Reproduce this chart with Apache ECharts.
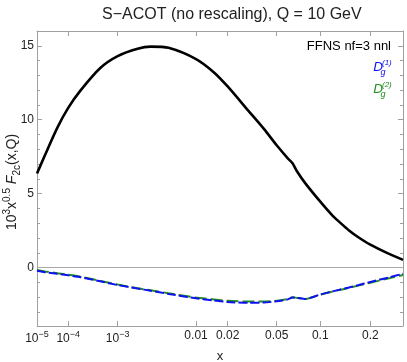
<!DOCTYPE html>
<html>
<head>
<meta charset="utf-8">
<script src="https://cdn.jsdelivr.net/npm/echarts@6/dist/echarts.min.js"></script>
<style>
html,body{margin:0;padding:0;background:#fff;}
#chart{width:407px;height:362px;}
</style>
</head>
<body>
<div id="chart"></div>
<script>
// ---- data ----
const xValues = [1e-5, 2e-5, 5e-5, 1e-4, 2e-4, 5e-4, 1e-3, 2e-3, 3e-3, 5e-3, 0.01, 0.015, 0.02, 0.03, 0.04, 0.05, 0.06, 0.065, 0.07, 0.08, 0.1, 0.12, 0.135, 0.15, 0.17, 0.2, 0.25, 0.3];
const ffnsValues = [6.36, 7.6, 9.45, 10.8, 12.0, 13.5, 14.3, 14.8, 14.94, 14.86, 14.1, 13.2, 12.25, 10.62, 9.38, 8.27, 7.4, 7.06, 6.5, 5.68, 4.46, 3.5, 2.98, 2.53, 2.07, 1.55, 0.96, 0.52];
const dg1Values = [-0.22, -0.31, -0.42, -0.52, -0.65, -0.93, -1.18, -1.42, -1.56, -1.78, -2.08, -2.22, -2.33, -2.38, -2.36, -2.28, -2.15, -2.02, -2.05, -2.12, -1.82, -1.6, -1.47, -1.35, -1.19, -0.97, -0.68, -0.42];
const dg2Values = [-0.17, -0.26, -0.38, -0.48, -0.62, -0.9, -1.15, -1.4, -1.53, -1.74, -2.03, -2.15, -2.25, -2.3, -2.3, -2.25, -2.13, -2.0, -2.05, -2.12, -1.83, -1.62, -1.49, -1.38, -1.22, -1.02, -0.74, -0.5];
const xTicks = [1e-5, 1e-4, 1e-3, 0.01, 0.02, 0.05, 0.1, 0.2];
const xTickLabels = ['10^−5', '10^−4', '10^−3', '0.01', '0.02', '0.05', '0.1', '0.2'];
const yMajorTicks = [0, 5, 10, 15];
const yMinorTicks = [-3, -2, -1, 0, 1, 2, 3, 4, 5, 6, 7, 8, 9, 10, 11, 12, 13, 14, 15, 16];
const xRange = [1e-5, 0.3];
const yRange = [-3.95, 16];
const titleText = 'S−ACOT (no rescaling), Q = 10 GeV';
const legendTitle = 'FFNS nf=3 nnl';

// ---- scale transform (x^0.2 axis) ----
const P = 0.2;
const t = v => Math.pow(v, P);

const FONT = 'Liberation Sans, Arial, Helvetica, sans-serif';
const FRAME = '#a0a0a0';
const TXT = '#222';
const BLUE = '#1010f0';
const GREEN = '#1f8f1f';

const xTickPos = xTicks.map(t);
function xLabelFmt(v) {
  let best = 0, bd = Infinity;
  xTickPos.forEach((p, i) => { const d = Math.abs(p - v); if (d < bd) { bd = d; best = i; } });
  const s = xTickLabels[best];
  if (s.indexOf('^') >= 0) {
    const [b, e] = s.split('^');
    return '{b|' + b + '}{s|' + e + '}';
  }
  return '{b|' + s + '}';
}

const pairs = arr => xValues.map((x, i) => [t(x), arr[i]]);

const chart = echarts.init(document.getElementById('chart'), null, { renderer: 'canvas' });

const frameAxisX = (pos, showLabel) => ({
  type: 'value', position: pos, min: t(xRange[0]), max: t(xRange[1]),
  axisLine: { show: true, onZero: false, lineStyle: { color: FRAME, width: 1 } },
  axisTick: { show: true, inside: true, length: 5, customValues: xTickPos, lineStyle: { color: FRAME, width: 1 } },
  axisLabel: showLabel ? {
    show: true, customValues: xTickPos, margin: 4, formatter: xLabelFmt,
    color: TXT, fontFamily: FONT, fontSize: 12,
    rich: {
      b: { fontSize: 12, fontFamily: FONT, color: TXT, verticalAlign: 'bottom', padding: [0, 0, 0, 0] },
      s: { fontSize: 9, fontFamily: FONT, color: TXT, verticalAlign: 'bottom', padding: [0, 0, 6, 0] }
    }
  } : { show: false },
  splitLine: { show: false },
  minorTick: { show: false }
});

const frameAxisY = (pos, major, showLabel, showLine) => ({
  type: 'value', position: pos, min: yRange[0], max: yRange[1],
  axisLine: { show: showLine, onZero: false, lineStyle: { color: FRAME, width: 1 } },
  axisTick: { show: true, inside: true, length: major ? 5 : 3, customValues: major ? yMajorTicks : yMinorTicks, lineStyle: { color: FRAME, width: 1 } },
  axisLabel: showLabel ? { show: true, customValues: yMajorTicks, margin: 3, color: TXT, fontFamily: FONT, fontSize: 12 } : { show: false },
  splitLine: { show: false }
});

const xAx0 = frameAxisX('bottom', true);
xAx0.name = 'x';
xAx0.nameLocation = 'middle';
xAx0.nameGap = 20;
xAx0.nameTextStyle = { fontSize: 13, fontFamily: FONT, color: TXT };

const richTok = (size, pb, italic) => ({
  fontSize: size, fontFamily: FONT, color: TXT, fill: TXT,
  fontStyle: italic ? 'italic' : 'normal',
  verticalAlign: 'bottom', padding: [0, 0, pb, 0]
});

const option = {
  animation: false,
  backgroundColor: '#fff',
  title: {
    text: titleText, left: 97, top: 2,
    textStyle: { fontSize: 16, fontWeight: 'normal', fontFamily: FONT, color: TXT }
  },
  grid: { left: 37, right: 4, top: 31, bottom: 36, containLabel: false, outerBoundsMode: 'none' },
  xAxis: [xAx0, frameAxisX('top', false)],
  yAxis: [
    frameAxisY('left', true, true, true),
    frameAxisY('left', false, false, false),
    frameAxisY('right', true, false, true),
    frameAxisY('right', false, false, false)
  ],
  series: [
    {
      name: 'FFNS', type: 'line', xAxisIndex: 0, yAxisIndex: 0,
      data: pairs(ffnsValues), showSymbol: false, smooth: 0.25,
      lineStyle: { color: '#000', width: 2.6 },
      markLine: {
        silent: true, symbol: ['none', 'none'], label: { show: false },
        lineStyle: { color: '#a8a8a8', width: 1, type: 'solid' },
        data: [{ yAxis: 0 }]
      }
    },
    {
      name: 'Dg2', type: 'line', xAxisIndex: 0, yAxisIndex: 0,
      data: pairs(dg2Values), showSymbol: false, smooth: 0.2,
      lineStyle: { color: GREEN, width: 2, type: [12, 4] }
    },
    {
      name: 'Dg1', type: 'line', xAxisIndex: 0, yAxisIndex: 0,
      data: pairs(dg1Values), showSymbol: false, smooth: 0.2,
      lineStyle: { color: BLUE, width: 2, type: [9, 3] }
    }
  ],
  graphic: [
    {
      type: 'text', x: 12, y: 182, rotation: Math.PI / 2,
      style: {
        text: '{n|10}{p|3}{n|x}{p|0.5}{n| }{i|F}{b|2c}{n|(x,Q)}',
        font: '14px ' + FONT, fill: TXT, align: 'center', textAlign: 'center', verticalAlign: 'middle', textVerticalAlign: 'middle',
        rich: { n: richTok(14, 3, false), i: richTok(14, 3, true), p: richTok(10, 10, false), b: richTok(10, 0, false) }
      }
    },
    { type: 'text', x: 391, y: 46, style: { text: legendTitle, font: '13px ' + FONT, fill: '#000', align: 'right', textAlign: 'right', verticalAlign: 'middle', textVerticalAlign: 'middle' } },
    { type: 'text', x: 383, y: 67, style: { text: 'D', font: 'italic 13.5px ' + FONT, fill: BLUE, align: 'right', textAlign: 'right', verticalAlign: 'middle', textVerticalAlign: 'middle' } },
    { type: 'text', x: 382, y: 63, style: { text: '(1)', font: 'italic 8px ' + FONT, fill: BLUE, align: 'left', textAlign: 'left', verticalAlign: 'middle', textVerticalAlign: 'middle' } },
    { type: 'text', x: 380.5, y: 72, style: { text: 'g', font: 'italic 9px ' + FONT, fill: BLUE, align: 'left', textAlign: 'left', verticalAlign: 'middle', textVerticalAlign: 'middle' } },
    { type: 'text', x: 383, y: 89, style: { text: 'D', font: 'italic 13.5px ' + FONT, fill: GREEN, align: 'right', textAlign: 'right', verticalAlign: 'middle', textVerticalAlign: 'middle' } },
    { type: 'text', x: 382, y: 85, style: { text: '(2)', font: 'italic 8px ' + FONT, fill: GREEN, align: 'left', textAlign: 'left', verticalAlign: 'middle', textVerticalAlign: 'middle' } },
    { type: 'text', x: 380.5, y: 94, style: { text: 'g', font: 'italic 9px ' + FONT, fill: GREEN, align: 'left', textAlign: 'left', verticalAlign: 'middle', textVerticalAlign: 'middle' } }
  ]
};
chart.setOption(option);
</script>
</body>
</html>
